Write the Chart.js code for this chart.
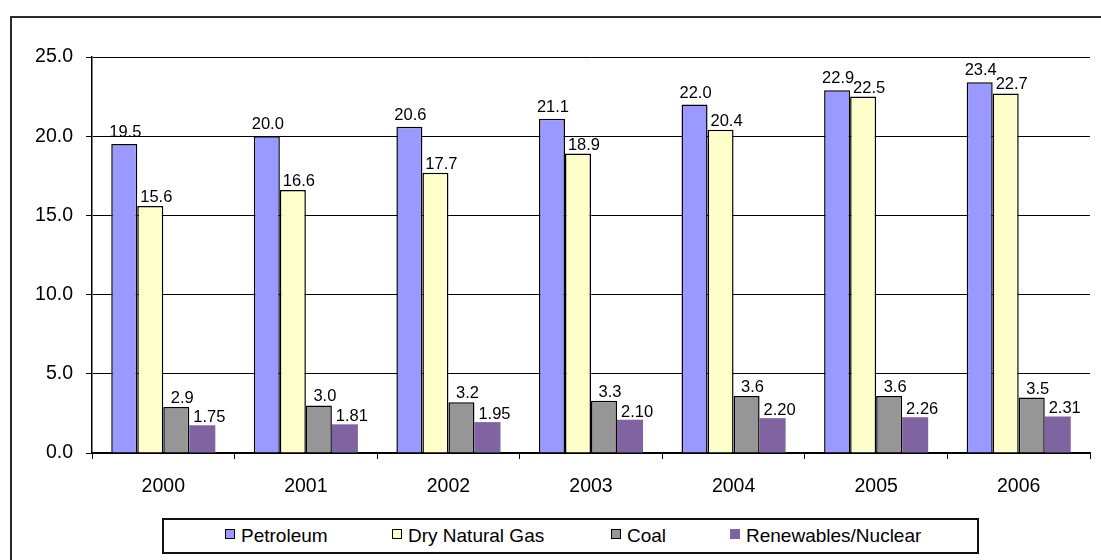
<!DOCTYPE html>
<html lang="en">
<head>
<meta charset="UTF-8">
<title>Energy consumption 2000-2006</title>
<script src="https://cdn.jsdelivr.net/npm/chart.js"></script>
<style>
    body { margin: 0; background: #fff; font-family: "Liberation Sans", Arial, sans-serif; }
    #wrap { position: relative; width: 1101px; height: 560px; overflow: hidden; }
    #frame { position: absolute; left: 10px; top: 16px; width: 1200px; height: 700px; border: 2px solid #2a2a2a; }
    #chart { position: absolute; left: 0; top: 0; }
    #legend {
        position: absolute; left: 162px; top: 518px; width: 817px; height: 36px;
        border: 2px solid #111; background: #fff; display: flex; align-items: center;
        padding-left: 61px; box-sizing: border-box;
    }
    #legend .item { display: flex; align-items: center; font-size: 19px; color: #000; white-space: nowrap; }
    #legend .box { flex: 0 0 auto; width: 8px; height: 8px; margin-right: 6px; margin-top: -5px; }
</style>
</head>
<body>
<div id="wrap">
    <div id="frame"></div>
    <canvas id="chart" width="1101" height="560"></canvas>
    <div id="legend"></div>
</div>
<script>
    // data
    const years = ['2000', '2001', '2002', '2003', '2004', '2005', '2006'];
    const petroleum = [19.5, 20.0, 20.6, 21.1, 22.0, 22.9, 23.4];
    const naturalGas = [15.6, 16.6, 17.7, 18.9, 20.4, 22.5, 22.7];
    const coal = [2.9, 3.0, 3.2, 3.3, 3.6, 3.6, 3.5];
    const renewables = [1.75, 1.81, 1.95, 2.10, 2.20, 2.26, 2.31];
    const seriesNames = ['Petroleum', 'Dry Natural Gas', 'Coal', 'Renewables/Nuclear'];
    const yTicks = [0, 5, 10, 15, 20, 25];

    const colors = ['#9999FF', '#FFFFCC', '#969696', '#8064A2'];
    const borders = [1.5, 1.5, 1.5, 0];
    const decimals = [1, 1, 1, 2];
    const labelShift = [1, 6, 6, 7];
    const labelGap = [7, 4, 4, 3];
    const legendWidths = [167, 219, 119, 240];

    const FONT = '"Liberation Sans", Arial, sans-serif';

    const valueLabels = {
        id: 'valueLabels',
        afterDatasetsDraw(chart) {
            const ctx = chart.ctx;
            ctx.save();
            ctx.font = '16.5px ' + FONT;
            ctx.fillStyle = '#000';
            ctx.textAlign = 'center';
            ctx.textBaseline = 'alphabetic';
            chart.data.datasets.forEach((ds, i) => {
                chart.getDatasetMeta(i).data.forEach((bar, j) => {
                    ctx.fillText(ds.data[j].toFixed(decimals[i]), bar.x + labelShift[i], bar.y - labelGap[i]);
                });
            });
            ctx.restore();
        }
    };

    const seriesData = [petroleum, naturalGas, coal, renewables];

    const chart = new Chart(document.getElementById('chart'), {
        type: 'bar',
        data: {
            labels: years,
            datasets: seriesData.map((d, i) => ({
                label: seriesNames[i],
                data: d,
                backgroundColor: colors[i],
                borderColor: '#000',
                borderWidth: borders[i],
                categoryPercentage: 0.73,
                barPercentage: 1.0
            }))
        },
        options: {
            responsive: false,
            animation: false,
            events: [],
            layout: { padding: { top: 57, right: 11, left: 0, bottom: 0 } },
            plugins: { legend: { display: false }, tooltip: { enabled: false } },
            scales: {
                x: {
                    afterFit(scale) { scale.height = 107; },
                    grid: {
                        offset: true, drawOnChartArea: false, drawTicks: true,
                        tickLength: 6, tickColor: '#000', color: '#000'
                    },
                    border: { color: '#000', width: 1.5 },
                    ticks: { color: '#000', font: { family: FONT, size: 19.5 }, padding: 16 }
                },
                y: {
                    min: 0, max: 25,
                    afterFit(scale) { scale.width = 92; },
                    afterBuildTicks(scale) { scale.ticks = yTicks.map(v => ({ value: v })); },
                    grid: { color: '#000', lineWidth: 1, tickLength: 6, tickColor: '#000' },
                    border: { color: '#000', width: 1.5 },
                    ticks: {
                        color: '#000', font: { family: FONT, size: 19.5 }, padding: 13,
                        callback: v => v.toFixed(1)
                    }
                }
            }
        },
        plugins: [valueLabels]
    });

    // legend box like the spreadsheet one
    const legend = document.getElementById('legend');
    seriesNames.forEach((name, i) => {
        const item = document.createElement('div');
        item.className = 'item';
        item.style.flex = '0 0 ' + legendWidths[i] + 'px';
        const box = document.createElement('span');
        box.className = 'box';
        box.style.background = colors[i];
        box.style.border = borders[i] ? '1px solid #000' : 'none';
        if (!borders[i]) { box.style.width = '10px'; box.style.height = '10px'; }
        item.appendChild(box);
        item.appendChild(document.createTextNode(name));
        legend.appendChild(item);
    });
</script>
</body>
</html>
